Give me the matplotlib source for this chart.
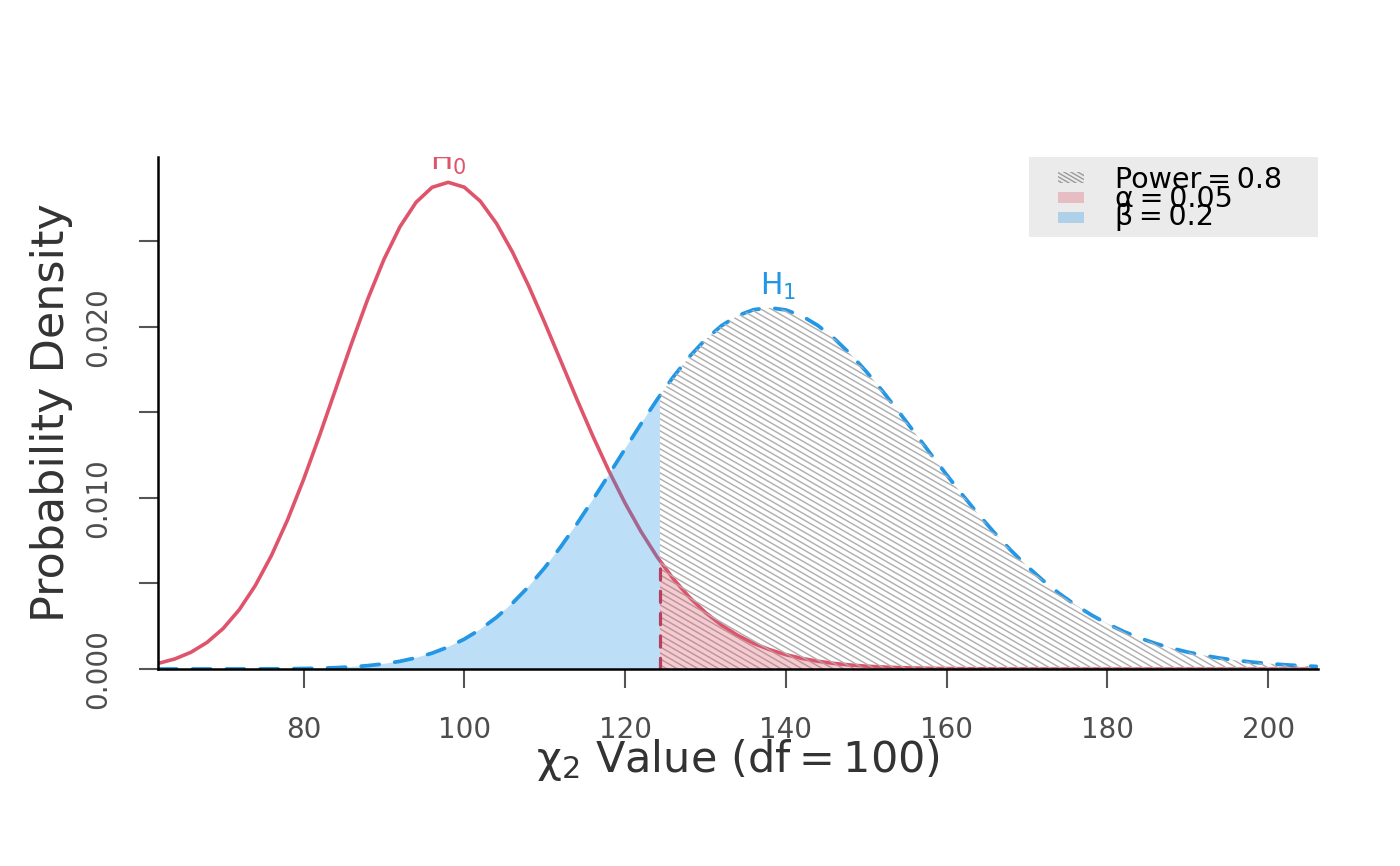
import numpy as np
import matplotlib
matplotlib.use("Agg")
import matplotlib.pyplot as plt
from matplotlib.collections import LineCollection
from matplotlib.patches import Rectangle

plt.rcParams['font.family'] = ['DejaVu Sans']
plt.rcParams['mathtext.fontset'] = 'dejavusans'

# ---------------- data ----------------
chi_x = [62, 64, 66, 68, 70, 72, 74, 76, 78, 80, 82, 84, 86, 88, 90, 92, 94, 96, 98,
         100, 102, 104, 106, 108, 110, 112, 114, 116, 118, 120, 122, 124, 124.34, 126,
         128, 130, 132, 134, 136, 138, 140, 142, 144, 146, 148, 150, 152, 154, 156,
         158, 160, 162, 164, 166, 168, 170, 172, 174, 176, 178, 180, 182, 184, 186,
         188, 190, 192, 194, 196, 198, 200, 202, 204, 206]

h0_density = [0.000338, 0.000589, 0.000979, 0.001554, 0.002366, 0.003461, 0.004876,
              0.006626, 0.008705, 0.011072, 0.013659, 0.016365, 0.019070, 0.021641,
              0.023946, 0.025862, 0.027291, 0.028168, 0.028460, 0.028175, 0.027352,
              0.026057, 0.024377, 0.022411, 0.020260, 0.018022, 0.015781, 0.013614,
              0.011573, 0.009701, 0.008022, 0.006546, 0.006330, 0.005275, 0.004198,
              0.003301, 0.002566, 0.001972, 0.001499, 0.001128, 0.000840, 0.000619,
              0.000452, 0.000327, 0.000234, 0.000166, 0.000117, 0.000082, 0.000057,
              0.000039, 0.000027, 0.000018, 0.000012, 0.000008, 0.000005, 0.000004,
              0.000002, 0.000001, 0.000001, 0.0, 0.0, 0.0, 0.0, 0.0, 0.0, 0.0, 0.0,
              0.0, 0.0, 0.0, 0.0, 0.0, 0.0, 0.0]

h1_density = [0.0, 0.0000001, 0.0000002, 0.0000005, 0.0000010, 0.0000021, 0.0000042,
              0.0000081, 0.0000149, 0.0000267, 0.0000460, 0.0000768, 0.0001246,
              0.0001963, 0.0003008, 0.000449, 0.000653, 0.000927, 0.001287, 0.001746,
              0.002320, 0.003018, 0.003850, 0.004818, 0.005920, 0.007147, 0.008481,
              0.009901, 0.011376, 0.012871, 0.014346, 0.015764, 0.015988, 0.017081,
              0.018260, 0.019268, 0.020075, 0.020661, 0.021011, 0.021123, 0.020995,
              0.020645, 0.020081, 0.019336, 0.018430, 0.017398, 0.016269, 0.015069,
              0.013835, 0.012590, 0.011358, 0.010163, 0.009018, 0.007940, 0.006936,
              0.006013, 0.005175, 0.004420, 0.003752, 0.003160, 0.002645, 0.002198,
              0.001816, 0.001490, 0.001216, 0.000986, 0.000794, 0.000636, 0.000507,
              0.000402, 0.000317, 0.000248, 0.000194, 0.000150]

critical_value = 124.34
h0_at_critical = 0.006330

x_ticks = [80, 100, 120, 140, 160, 180, 200]
y_ticks = [0.000, 0.005, 0.010, 0.015, 0.020, 0.025]
y_tick_labels = ['0.000', '', '0.010', '', '0.020', '']

h0_label_pos = (98, 0.0292)
h1_label_pos = (139, 0.0219)

legend_labels = ['Power\u2009=\u20090.8', '\u03b1\u2009=\u20090.05', '\u03b2\u2009=\u20090.2']

# ---------------- style ----------------
RED = '#DF536B'
BLUE = '#2297E6'
HATCH = '#B0B0B0'
W_PX, H_PX = 1400, 866
AX_L, AX_R, AX_T, AX_B = 158, 1318, 157, 669

fig = plt.figure(figsize=(W_PX / 100, H_PX / 100), dpi=100)
ax = fig.add_axes([AX_L / W_PX, 1 - AX_B / H_PX, (AX_R - AX_L) / W_PX, (AX_B - AX_T) / H_PX])
axw, axh = AX_R - AX_L, AX_B - AX_T

x = np.array(chi_x, dtype=float)
h0 = np.array(h0_density)
h1 = np.array(h1_density)

ax.set_xlim(61.9, 206.2)
ax.set_ylim(0, 0.02994)


def stripes(clip_patch_or_path, clip_trans=None, spacing_px=6.0, angle_deg=30.0,
            color=HATCH, lw=1.05, zorder=3):
    s = -np.tan(np.radians(angle_deg)) * axw / axh   # slope in axes units
    db = spacing_px / axh
    bs = np.arange(0, 1 - s + db, db)
    segs = [[(0, b), (1, b + s)] for b in bs]
    lc = LineCollection(segs, colors=color, linewidths=lw, transform=ax.transAxes,
                        zorder=zorder)
    ax.add_collection(lc)
    if clip_trans is None:
        lc.set_clip_path(clip_patch_or_path)
    else:
        lc.set_clip_path(clip_patch_or_path, clip_trans)
    return lc


# curves
ax.plot(x, h0, color=RED, lw=2.6, zorder=2, solid_capstyle='round',
        solid_joinstyle='round')
ax.plot(x, h1, color=BLUE, lw=2.7, zorder=2, linestyle=(0, (4.8, 4.2)),
        dash_capstyle='round', dash_joinstyle='round')

# power region (hatched)
pm = x >= critical_value
poly = ax.fill_between(x[pm], h1[pm], 0, facecolor='none', edgecolor='none', zorder=1)
stripes(poly.get_paths()[0], ax.transData, zorder=3)

# alpha region
ax.fill_between(x[pm], h0[pm], 0, facecolor=RED, alpha=0.3, linewidth=0, zorder=4)
# beta region
bm = x <= critical_value
ax.fill_between(x[bm], h1[bm], 0, facecolor=BLUE, alpha=0.3, linewidth=0, zorder=4)

# critical value line
ax.plot([critical_value, critical_value], [0, h0_at_critical], color='#B5405F', lw=2.3,
        linestyle=(0, (3.5, 3.5)), dash_capstyle='round', zorder=5)

# curve labels
ax.text(h0_label_pos[0], h0_label_pos[1], r'$\mathregular{H_0}$', color=RED, fontsize=21.5,
        ha='center', va='baseline', clip_on=True, zorder=6)
ax.text(h1_label_pos[0], h1_label_pos[1], r'$\mathregular{H_1}$', color=BLUE, fontsize=21.5,
        ha='center', va='baseline', zorder=6)

# axes styling
for side in ['top', 'right']:
    ax.spines[side].set_visible(False)
for side in ['left', 'bottom']:
    ax.spines[side].set_linewidth(1.8)
    ax.spines[side].set_color('black')
    ax.spines[side].set_zorder(7)

ax.set_xticks(x_ticks)
ax.set_xticklabels([str(t) for t in x_ticks])
ax.set_yticks(y_ticks)
ax.set_yticklabels(y_tick_labels)
ax.tick_params(axis='both', length=14, width=1.5, color='#555555', labelsize=20,
               labelcolor='#4D4D4D')
ax.tick_params(axis='x', pad=20)
ax.tick_params(axis='y', pad=19)
for lbl in ax.get_yticklabels():
    lbl.set_rotation(90)
    lbl.set_va('center')

fig.text(52 / W_PX, 1 - 413 / H_PX, 'Probability Density', rotation=90, ha='center',
         va='center', fontsize=32, color='#333333')
fig.text(738 / W_PX, 1 - 760 / H_PX,
         r'$\mathregular{\chi_2}$ Value (df' + '\u2009=\u2009' + '100)',
         ha='center', va='center', fontsize=31, color='#333333')

# legend (drawn manually to mimic the original layout)
def px_to_ax(px, py):
    return (px - AX_L) / axw, (AX_B - py) / axh

lx0, ly0 = px_to_ax(1029, 237)
lx1, ly1 = px_to_ax(1318, 157)
ax.add_patch(Rectangle((lx0, ly0), lx1 - lx0, ly1 - ly0, transform=ax.transAxes,
                       facecolor='#EBEBEB', edgecolor='none', zorder=8, clip_on=False))

sw_x0, _ = px_to_ax(1058, 0)
sw_x1, _ = px_to_ax(1084, 0)
swatch_rows = [(172, 183), (192, 203), (212, 223)]
swatch_colors = [None, RED, BLUE]
text_baselines = [188, 207, 225]
for (top, bot), col, lab, base in zip(swatch_rows, swatch_colors, legend_labels,
                                      text_baselines):
    _, yb = px_to_ax(0, bot)
    _, yt = px_to_ax(0, top)
    if col is None:
        r = Rectangle((sw_x0, yb), sw_x1 - sw_x0, yt - yb, transform=ax.transAxes,
                      facecolor='none', edgecolor='none', zorder=9, clip_on=False)
        ax.add_patch(r)
        stripes(r, None, spacing_px=4.0, color='#9A9A9A', lw=1.0, zorder=9)
    else:
        ax.add_patch(Rectangle((sw_x0, yb), sw_x1 - sw_x0, yt - yb, transform=ax.transAxes,
                               facecolor=col, alpha=0.3, edgecolor='none', zorder=9,
                               clip_on=False))
    tx, ty = px_to_ax(1115, base)
    ax.text(tx, ty, lab, transform=ax.transAxes, fontsize=20.5, color='black',
            ha='left', va='baseline', zorder=10, clip_on=False)

fig.savefig('out.png', dpi=100)
